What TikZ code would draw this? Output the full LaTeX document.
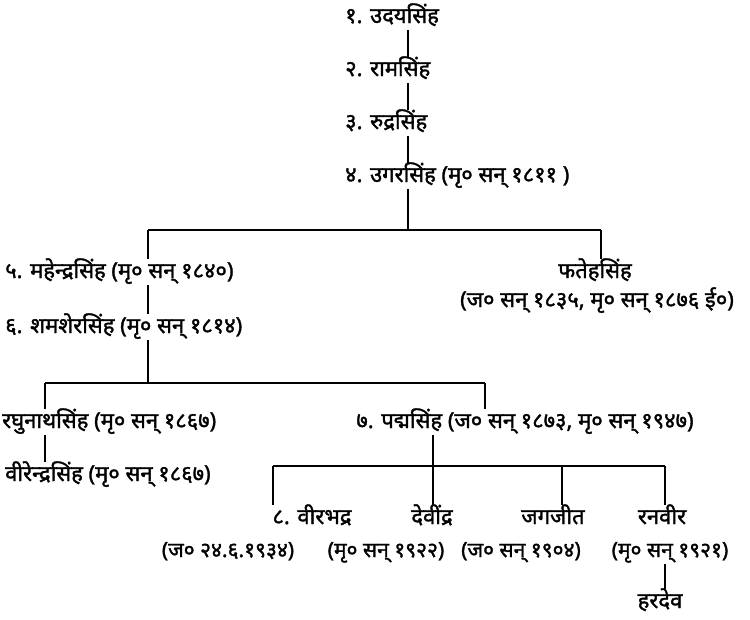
\documentclass[tikz,border=0pt]{standalone}
\usepackage{fontspec}
\newfontfamily\dev[Script=Devanagari, FakeBold=1.5]{Noto Sans}
\usetikzlibrary{positioning}

\begin{document}
\begin{tikzpicture}[x=1pt, y=-1pt,
		p/.style = {font=\dev\fontsize{22}{26}\selectfont, inner sep=2pt,
			text height=17pt, text depth=5pt},
		d/.style = {p, font=\dev\fontsize{21}{24}\selectfont},
		r/.style = {line width=1.3pt},
		]
	\useasboundingbox (0,0) rectangle (750,619);

	% first four generations
	\node[p, anchor=west]	(udai)		at	(343, 17)	{१. उदयसिंह};
	\node[p, anchor=west]	(ram)		at	(343, 70)	{२. रामसिंह};
	\node[p, anchor=west]	(rudra)		at	(343, 123)	{३. रुद्रसिंह};
	\node[p, anchor=west]	(ugar)		at	(343, 176)	{४. उगरसिंह (मृ० सन् १८११ )};

	\node[p, anchor=west]	(mahendra)	at	(3, 272)	{५. महेन्द्रसिंह (मृ० सन् १८४०)};
	\node[p, anchor=west]	(shamsher)	at	(3, 327)	{६. शमशेरसिंह (मृ० सन् १८१४)};
	\node[p]				(fateh)		at	(595, 272)	{फतेहसिंह};
	\node[p]				(fatehd)	at	(597, 301)	{(ज० सन् १८३५, मृ० सन् १८७६ ई०)};

	\node[p, anchor=west]	(raghu)		at	(0, 422)	{रघुनाथसिंह (मृ० सन् १८६७)};
	\node[p, anchor=west]	(virendra)	at	(3, 475)	{वीरेन्द्रसिंह (मृ० सन् १८६७)};
	\node[p]				(padam)		at	(525, 422)	{७. पद्मसिंह (ज० सन् १८७३, मृ० सन् १९४७)};

	\node[p]				(virbhadra)	at	(312, 518)	{८. वीरभद्र};
	\node[p]				(devindra)	at	(432, 518)	{देवींद्र};
	\node[p]				(jagjit)	at	(553, 518)	{जगजीत};
	\node[p]				(ranvir)	at	(662, 518)	{रनवीर};
	\node[d]				(virbhadrad) at	(228, 551)	{(ज० २४.६.१९३४)};
	\node[d]				(devindrad)	at	(386, 551)	{(मृ० सन् १९२२)};
	\node[d]				(jagjitd)	at	(521, 551)	{(ज० सन् १९०४)};
	\node[d]				(ranvird)	at	(670, 551)	{(मृ० सन् १९२१)};
	\node[p]				(hardev)	at	(660, 602)	{हरदेव};

	% spine
	\coordinate (s) at (408, 0);
	\draw[r]	(udai.south -| s)	--	(ram.north -| s);
	\draw[r]	(ram.south -| s)	--	(rudra.north -| s);
	\draw[r]	(rudra.south -| s)	--	(ugar.north -| s);

	% sons of 4
	\coordinate (b1)  at (408, 230);
	\coordinate (b1l) at (148, 230);
	\coordinate (b1r) at (601, 230);
	\draw[r]	(ugar.south -| b1)	--	(b1);
	\draw[r]	(b1l)	--	(b1r);
	\draw[r]	(b1l)	--	(mahendra.north -| b1l);
	\draw[r]	(b1r)	--	(fateh.north -| b1r);
	\draw[r]	(mahendra.south -| b1l)	--	(shamsher.north -| b1l);

	% sons of 6
	\coordinate (b2)  at (148, 383);
	\coordinate (b2l) at (45, 383);
	\coordinate (b2r) at (485, 383);
	\draw[r]	(shamsher.south -| b2)	--	(b2);
	\draw[r]	(b2l)	--	(b2r);
	\draw[r]	(b2l)	--	(raghu.north -| b2l);
	\draw[r]	(b2r)	--	(padam.north -| b2r);
	\draw[r]	(raghu.south -| b2l)	--	(virendra.north -| b2l);

	% sons of 7
	\coordinate (b3)  at (433, 466);
	\coordinate (b3l) at (273, 466);
	\coordinate (b3m) at (562, 466);
	\coordinate (b3r) at (665, 466);
	\draw[r]	(padam.south -| b3)	--	(devindra.north -| b3);
	\draw[r]	(b3l)	--	(b3r);
	\draw[r]	(b3l)	--	(virbhadra.north -| b3l);
	\draw[r]	(b3m)	--	(jagjit.north -| b3m);
	\draw[r]	(b3r)	--	(ranvir.north -| b3r);
	\draw[r]	(ranvird.south -| b3r)	--	(hardev.north -| b3r);
\end{tikzpicture}
\end{document}
